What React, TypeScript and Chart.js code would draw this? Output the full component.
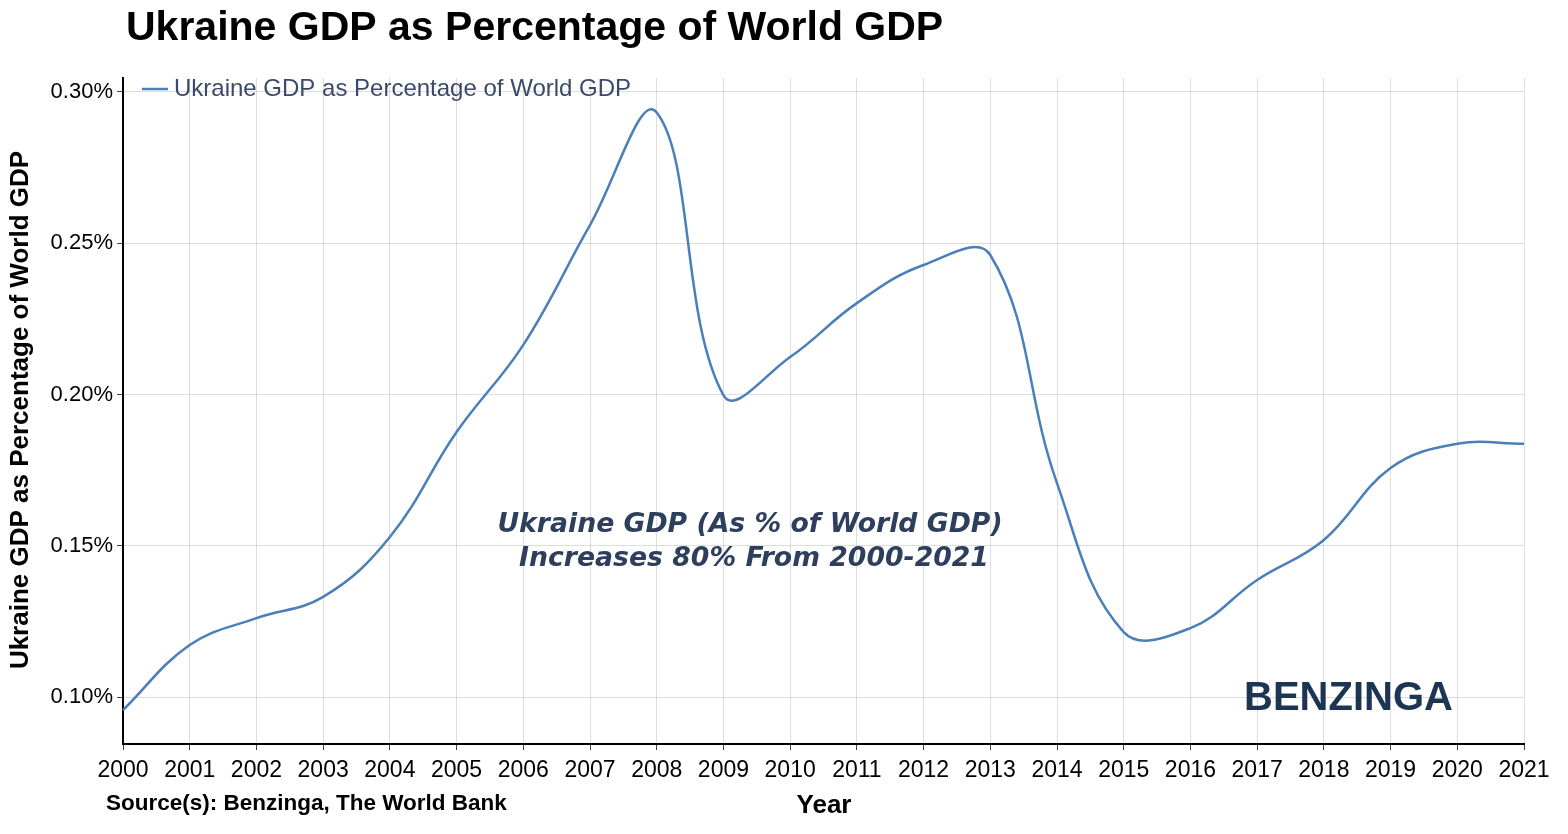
import React, { useEffect, useRef } from "react";
import { Chart, registerables } from "chart.js";

Chart.register(...registerables);

const years = ["2000","2001","2002","2003","2004","2005","2006","2007","2008","2009","2010","2011","2012","2013","2014","2015","2016","2017","2018","2019","2020","2021"];
const gdpShare = [0.0957,0.1172,0.1261,0.1331,0.1529,0.1876,0.2164,0.256,0.2932,0.1998,0.2124,0.2302,0.2428,0.2461,0.1707,0.1215,0.1228,0.1387,0.1519,0.1757,0.1837,0.1837];
const yTickValues = [0.10,0.15,0.20,0.25,0.30];

const titleText = "Ukraine GDP as Percentage of World GDP";
const seriesLabel = "Ukraine GDP as Percentage of World GDP";
const yTitle = "Ukraine GDP as Percentage of World GDP";
const xTitle = "Year";
const sourceText = "Source(s): Benzinga, The World Bank";
const noteLines = ["Ukraine GDP (As % of World GDP)", "Increases 80% From 2000-2021"];
const watermark = "BENZINGA";

const LINE = "#4a7fb9";
const FAM = "'Liberation Sans', Arial, sans-serif";

export default function App() {
  const ref = useRef<HTMLCanvasElement>(null);
  useEffect(() => {
    document.body.style.margin = "0";
    const textPlugin = {
      id: "texts",
      afterDraw(chart: any) {
        const c = chart.ctx;
        c.save();
        c.fillStyle = "#000";
        c.font = `bold 41px ${FAM}`;
        c.textAlign = "left";
        c.textBaseline = "middle";
        c.fillText(titleText, 126, 29);
        c.strokeStyle = LINE;
        c.lineWidth = 2.5;
        c.beginPath();
        c.moveTo(142, 89);
        c.lineTo(168, 89);
        c.stroke();
        c.fillStyle = "#3b4a6b";
        c.font = `24px ${FAM}`;
        c.fillText(seriesLabel, 174, 89);
        c.save();
        c.translate(21, 410);
        c.rotate(-Math.PI / 2);
        c.textAlign = "center";
        c.fillStyle = "#000";
        c.font = `bold 26px ${FAM}`;
        c.fillText(yTitle, 0, 0);
        c.restore();
        c.textAlign = "center";
        c.fillStyle = "#000";
        c.font = `bold 26px ${FAM}`;
        c.fillText(xTitle, 824, 806);
        c.textAlign = "left";
        c.font = `bold 22.5px ${FAM}`;
        c.fillText(sourceText, 106, 804);
        c.textAlign = "center";
        c.fillStyle = "#2e3f5e";
        c.font = "italic bold 26.7px 'DejaVu Sans', Verdana, sans-serif";
        c.fillText(noteLines[0], 750, 525);
        c.fillText(noteLines[1], 754, 559);
        c.fillStyle = "#1c3553";
        c.font = `bold 40px ${FAM}`;
        c.textAlign = "left";
        c.fillText(watermark, 1244, 699);
        c.restore();
      },
    };
    const chart = new Chart(ref.current!, {
      type: "line",
      data: {
        labels: years,
        datasets: [
          {
            label: seriesLabel,
            data: gdpShare,
            borderColor: LINE,
            backgroundColor: LINE,
            borderWidth: 2.5,
            pointRadius: 0,
            tension: 0.4,
            fill: false,
          },
        ],
      },
      options: {
        animation: false,
        responsive: false,
        layout: { padding: { left: 0, top: 78, right: 44, bottom: 50 } },
        plugins: { legend: { display: false }, tooltip: { enabled: false } },
        scales: {
          x: {
            type: "category",
            offset: false,
            grid: { color: "rgba(0,0,0,0.13)", tickColor: "#444", tickLength: 6, offset: false },
            border: { color: "#000", width: 2 },
            ticks: { color: "#000", font: { size: 23, family: FAM }, maxRotation: 0, autoSkip: false, padding: 7 },
            afterFit: (s: any) => { s.height = 40; },
          },
          y: {
            type: "linear",
            min: 0.0845,
            max: 0.3046,
            afterBuildTicks: (s: any) => { s.ticks = yTickValues.map((v) => ({ value: v })); },
            grid: { color: "rgba(0,0,0,0.13)", tickColor: "#444", tickLength: 6 },
            border: { color: "#000", width: 2 },
            ticks: {
              color: "#000",
              font: { size: 22, family: FAM },
              padding: 4,
              callback: (v: any) => Number(v).toFixed(2) + "%",
            },
            afterFit: (s: any) => { s.width = 123; },
          },
        },
      },
      plugins: [textPlugin],
    });
    return () => chart.destroy();
  }, []);
  return <canvas ref={ref} width={1568} height={834} style={{ display: "block" }} />;
}
